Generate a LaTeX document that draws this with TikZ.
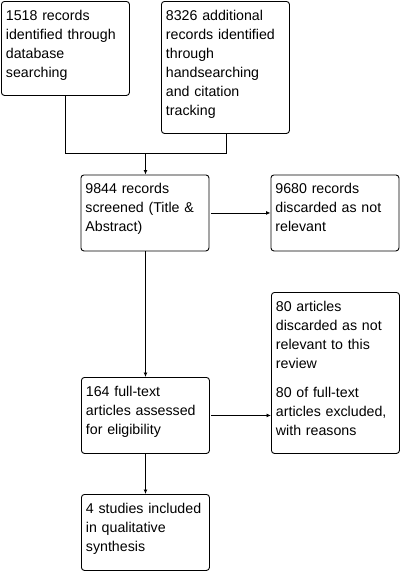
\documentclass[tikz,border=0pt]{standalone}
\usepackage{fontspec}
\setmainfont{Liberation Sans}
\usetikzlibrary{arrows.meta}
\begin{document}
\begin{tikzpicture}[x=1pt,y=-1pt,
  box/.style={draw, line width=0.9pt, rounded corners=3pt, anchor=north west,
    inner xsep=4.5pt, inner ysep=4pt, text height=15pt, align=left,
    font=\fontsize{14.2}{19}\selectfont},
  w128/.style={text width=119pt},
  conn/.style={line width=0.9pt},
  arr/.style={conn, -{Latex[length=4.5pt,width=4pt]}}
]
\useasboundingbox[fill=white] (0,0) rectangle (402,571);
\node[box,w128,text depth=71pt] (b1) at (1,1) {1518 records\\identified through\\database\\searching};
\node[box,w128,text depth=109pt] (b2) at (161,1) {8326 additional\\records identified\\through\\handsearching\\and citation\\tracking};
\node[box,w128,text depth=53pt] (b3) at (80.5,174.5) {9844 records\\screened (Title \&\\Abstract)};
\node[box,w128,text depth=53pt] (b4) at (270.5,174.5) {9680 records\\discarded as not\\relevant};
\node[box,w128,text depth=53pt] (b5) at (81,377) {164 full-text\\articles assessed\\for eligibility};
\node[box,w128,text depth=138pt] (b6) at (271,292) {80 articles\\discarded as not\\relevant to this\\review\\[10pt]80 of full-text\\articles excluded,\\with reasons};
\node[box,w128,text depth=53pt] (b7) at (81,494) {4 studies included\\in qualitative\\synthesis};
\coordinate (m1) at (65,153.5);
\coordinate (m2) at (226,153.5);
\coordinate (mj) at (145.5,153.5);
\draw[conn] (b1.south -| m1) -- (m1) -- (m2) -- (b2.south -| m2);
\draw[arr] (mj) -- (b3.north -| mj);
\draw[arr] (b3.east) ++(1.5,0) -- (b4.west);
\draw[arr] (b3.south -| mj) -- (b5.north -| mj);
\draw[arr] (b5.east) ++(1.5,0) -- (b6.west |- b5.east);
\draw[arr] (b5.south -| mj) -- (b7.north -| mj);
\end{tikzpicture}
\end{document}
